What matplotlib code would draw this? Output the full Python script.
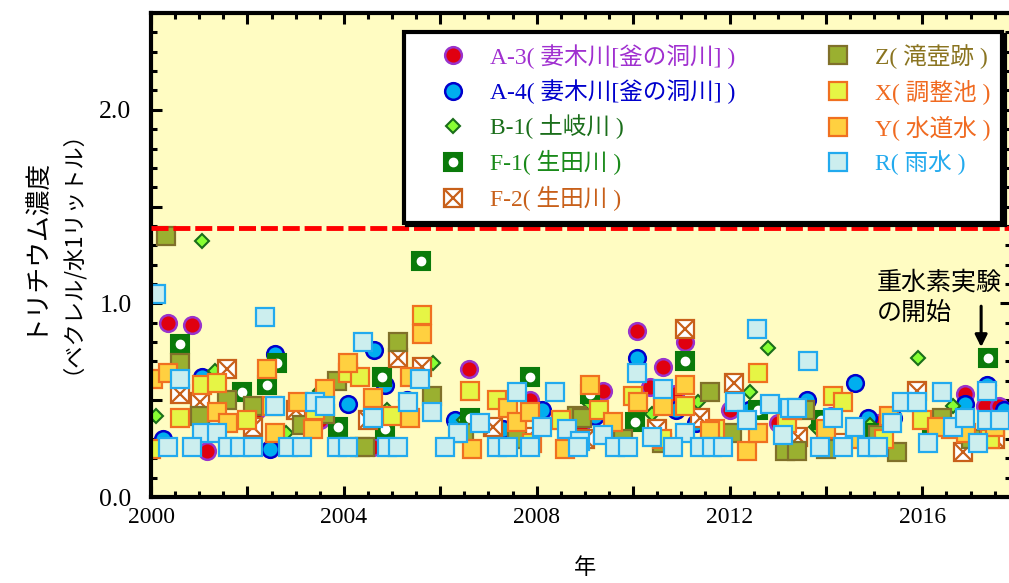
import numpy as np
import matplotlib
matplotlib.use('Agg')
import matplotlib.pyplot as plt
from matplotlib.ticker import MultipleLocator, FixedFormatter, FixedLocator

plt.rcParams['font.family'] = ['Liberation Serif', 'Noto Sans CJK JP']

# %%
# data (year, Bq/L)
a3_year = [2000.35, 2000.85, 2001.16, 2002.2, 2003.5, 2004.6, 2005.3, 2006.6, 2007.86, 2008.9,
           2009.38, 2010.08, 2010.35, 2010.62, 2010.87, 2011.08, 2012.0, 2013.0, 2014.1, 2015.08,
           2016.2, 2016.89, 2017.3, 2017.6]
a3_val = [0.90, 0.89, 0.24, 0.45, 0.40, 0.26, 0.45, 0.66, 0.50, 0.35,
          0.55, 0.86, 0.57, 0.67, 0.53, 0.80, 0.45, 0.38, 0.42, 0.38,
          0.38, 0.53, 0.47, 0.47]

a4_year = [2000.25, 2001.06, 2002.47, 2002.57, 2003.3, 2004.09, 2004.62, 2004.85, 2005.3, 2006.3,
           2007.3, 2008.1, 2009.2, 2010.08, 2010.9, 2011.3, 2012.4, 2013.6, 2014.61, 2014.88,
           2015.39, 2016.89, 2017.34, 2017.7]
a4_val = [0.30, 0.62, 0.25, 0.74, 0.42, 0.48, 0.76, 0.58, 0.50, 0.40,
          0.35, 0.45, 0.42, 0.72, 0.45, 0.38, 0.45, 0.50, 0.59, 0.41,
          0.41, 0.48, 0.58, 0.45]

b1_year = [2000.1, 2001.05, 2001.33, 2002.8, 2003.5, 2004.9, 2005.85, 2006.5, 2007.6, 2009.1,
           2010.4, 2011.35, 2012.43, 2012.8, 2013.8, 2014.92, 2015.9, 2016.64, 2017.5]
b1_val = [0.42, 1.32, 0.65, 0.33, 0.55, 0.45, 0.69, 0.40, 0.38, 0.48,
          0.43, 0.49, 0.54, 0.77, 0.36, 0.37, 0.72, 0.47, 0.40]

f1_year = [2000.6, 2001.89, 2002.41, 2002.61, 2003.88, 2004.79, 2004.85, 2005.6, 2006.62, 2007.86,
           2009.11, 2010.04, 2011.08, 2012.6, 2013.9, 2015.0, 2016.2, 2017.37]
f1_val = [0.79, 0.54, 0.58, 0.69, 0.36, 0.62, 0.35, 1.22, 0.41, 0.62,
          0.53, 0.39, 0.70, 0.45, 0.40, 0.33, 0.38, 0.72]

f2_year = [2000.6, 2001.02, 2001.58, 2002.12, 2003.0, 2004.5, 2005.12, 2005.62, 2007.1, 2007.82,
           2009.0, 2010.5, 2011.08, 2011.39, 2012.1, 2013.42, 2014.3, 2015.89, 2016.85, 2017.5]
f2_val = [0.53, 0.49, 0.66, 0.36, 0.45, 0.40, 0.72, 0.67, 0.36, 0.31,
          0.30, 0.35, 0.87, 0.41, 0.59, 0.31, 0.28, 0.55, 0.23, 0.30]

z_year = [2000.3, 2000.6, 2001.02, 2001.58, 2002.12, 2003.13, 2003.6, 2003.86, 2004.34, 2004.44,
          2005.12, 2005.83, 2006.5, 2007.6, 2008.84, 2008.94, 2009.8, 2010.6, 2011.6, 2012.05,
          2013.15, 2013.4, 2013.57, 2014.0, 2015.08, 2015.48, 2016.41, 2017.0]
z_val = [1.35, 0.69, 0.42, 0.50, 0.47, 0.37, 0.43, 0.60, 0.26, 0.26,
         0.80, 0.52, 0.33, 0.30, 0.42, 0.41, 0.30, 0.28, 0.54, 0.33,
         0.24, 0.24, 0.45, 0.25, 0.32, 0.23, 0.41, 0.30]

x_year = [2000.0, 2000.6, 2001.06, 2001.37, 2002.0, 2002.5, 2003.4, 2004.09, 2004.34, 2005.0,
          2005.62, 2006.62, 2007.18, 2007.9, 2008.5, 2009.3, 2010.0, 2010.6, 2011.08, 2011.7,
          2012.59, 2013.2, 2014.15, 2014.36, 2015.2, 2016.0, 2016.6, 2017.4]
x_val = [0.25, 0.41, 0.58, 0.59, 0.40, 0.47, 0.45, 0.64, 0.62, 0.42,
         0.94, 0.55, 0.50, 0.28, 0.40, 0.45, 0.52, 0.30, 0.47, 0.35,
         0.64, 0.38, 0.52, 0.49, 0.30, 0.40, 0.35, 0.30]

y_year = [2000.05, 2000.35, 2001.37, 2001.6, 2002.41, 2002.57, 2003.05, 2003.36, 2003.61, 2004.09,
          2004.61, 2005.37, 2005.37, 2005.62, 2006.66, 2007.41, 2007.59, 2007.86, 2008.59, 2009.11,
          2009.59, 2010.1, 2010.62, 2011.08, 2011.6, 2012.37, 2012.59, 2013.3, 2014.0, 2014.6,
          2015.3, 2016.3, 2016.9, 2017.5]
y_val = [0.61, 0.64, 0.44, 0.38, 0.66, 0.33, 0.49, 0.35, 0.56, 0.69,
         0.51, 0.41, 0.62, 0.84, 0.25, 0.46, 0.39, 0.44, 0.25, 0.58,
         0.39, 0.49, 0.47, 0.58, 0.34, 0.24, 0.33, 0.45, 0.35, 0.30,
         0.42, 0.36, 0.33, 0.36]

r_year = [2000.1, 2002.37, 2000.6, 2001.06, 2001.37, 2002.57, 2003.4, 2003.61, 2004.4, 2005.58,
          2005.33, 2005.83, 2004.61, 2006.83, 2006.37, 2007.59, 2008.38, 2008.11, 2008.63, 2010.08,
          2010.62, 2012.12, 2012.37, 2012.84, 2013.26, 2012.57, 2010.39, 2011.08, 2008.9, 2009.38,
          2013.11, 2013.63, 2013.4, 2014.15, 2014.61, 2015.58, 2015.89, 2015.37, 2016.41, 2016.64,
          2016.89, 2017.34, 2017.34, 2017.61, 2016.12, 2017.16,
          2000.35, 2000.85, 2001.6, 2001.85, 2002.12, 2002.84, 2003.13, 2003.86, 2004.09, 2004.9,
          2005.12, 2006.1, 2007.18, 2007.41, 2007.86, 2008.86, 2009.63, 2009.9, 2010.83, 2011.39,
          2011.64, 2011.87, 2013.88, 2014.36, 2014.85, 2015.08]
r_val = [1.05, 0.93, 0.61, 0.33, 0.33, 0.47, 0.49, 0.47, 0.80, 0.61,
         0.49, 0.44, 0.41, 0.38, 0.33, 0.54, 0.54, 0.36, 0.35, 0.64,
         0.56, 0.49, 0.40, 0.48, 0.46, 0.87, 0.31, 0.33, 0.29, 0.32,
         0.32, 0.70, 0.46, 0.41, 0.36, 0.49, 0.49, 0.38, 0.54, 0.36,
         0.41, 0.55, 0.40, 0.40, 0.28, 0.28,
         0.26, 0.26, 0.26, 0.26, 0.26, 0.26, 0.26, 0.26, 0.26, 0.26,
         0.26, 0.26, 0.26, 0.26, 0.26, 0.26, 0.26, 0.26, 0.26, 0.26,
         0.26, 0.26, 0.26, 0.26, 0.26, 0.26]

limit_val = 1.39

labels = ['A-3( 妻木川[釜の洞川] )', 'A-4( 妻木川[釜の洞川] )', 'B-1( 土岐川 )', 'F-1( 生田川 )',
          'F-2( 生田川 )', 'Z( 滝壺跡 )', 'X( 調整池 )', 'Y( 水道水 )', 'R( 雨水 )']

# %%
fig = plt.figure(figsize=(10.09, 5.83), dpi=100)
ax = fig.add_axes([0.1497, 0.1475, 0.8523, 0.8302])
ax.set_facecolor('#FFFCC2')

sq = 12.5
a3 = ax.plot(a3_year, a3_val, 'o', ms=12, mfc='#E00010', mec='#9933CC', mew=1.8, ls='none')[0]
a4 = ax.plot(a4_year, a4_val, 'o', ms=12, mfc='#00AEEF', mec='#0000CC', mew=1.8, ls='none')[0]
b1 = ax.plot(b1_year, b1_val, 'D', ms=7, mfc='#88FF33', mec='#1A6E1A', mew=1.5, ls='none')[0]
f1a = ax.plot(f1_year, f1_val, 's', ms=sq, mfc='#0A7A0A', mec='#0A7A0A', mew=1.5, ls='none')[0]
f1b = ax.plot(f1_year, f1_val, 'o', ms=6, mfc='white', mec='white', ls='none')[0]
f2a = ax.plot(f2_year, f2_val, 's', ms=sq, mfc='white', mec='#C8601A', mew=1.6, ls='none')[0]
f2b = ax.plot(f2_year, f2_val, 'x', ms=sq, mec='#C8601A', mew=1.6, ls='none')[0]
zz = ax.plot(z_year, z_val, 's', ms=sq, mfc='#9AB030', mec='#80702A', mew=1.6, ls='none')[0]
xx = ax.plot(x_year, x_val, 's', ms=sq, mfc='#E6F545', mec='#F07020', mew=1.6, ls='none')[0]
yy = ax.plot(y_year, y_val, 's', ms=sq, mfc='#FFD040', mec='#F07020', mew=1.6, ls='none')[0]
rr = ax.plot(r_year, r_val, 's', ms=sq, mfc='#CCEEEE', mec='#22AAEE', mew=1.6, ls='none')[0]

ax.axhline(limit_val, color='#FF0000', lw=3.5, dashes=(3.5, 1.0), zorder=5)

ax.set_xlim(2000, 2017.84)
ax.set_ylim(0, 2.5)
ax.xaxis.set_major_locator(MultipleLocator(2))
ax.xaxis.set_minor_locator(MultipleLocator(0.5))
ax.set_xticklabels([])
for yr in [2000, 2004, 2008, 2012, 2016]:
    ax.text(yr, -0.05, str(yr), ha='center', va='top', fontsize=17,
            family='Liberation Serif', clip_on=False)
ax.yaxis.set_major_locator(FixedLocator([0, 0.5, 1.0, 1.5, 2.0]))
ax.yaxis.set_major_formatter(FixedFormatter(['0.0', '', '1.0', '', '2.0']))
ax.yaxis.set_minor_locator(MultipleLocator(0.1))
ax.tick_params(which='both', direction='in', top=True, right=True, width=2.2)
ax.tick_params(axis='y', labelsize=18.5, pad=14)
ax.tick_params(which='major', length=8)
ax.tick_params(which='minor', length=4)
for s in ax.spines.values():
    s.set_linewidth(3)

# y label, two lines
fig.text(33 / 1009, 1 - 245 / 583, 'トリチウム濃度', rotation=90, ha='center', va='center',
         fontsize=18.5, family='Noto Sans CJK JP')
fig.text(60 / 1009, 1 - 241 / 583, '（ベクレル/水1リットル）', rotation=90, ha='center', va='center',
         fontsize=16, family='Noto Sans CJK JP')
fig.text(585 / 1009, 1 - 567 / 583, '年', ha='center', va='center', fontsize=16, family='Noto Sans CJK JP')

ax.text(2015.05, 1.175, '重水素実験\nの開始', ha='left', va='top', fontsize=18,
        family='Noto Sans CJK JP', linespacing=1.2)
ax.annotate('', xy=(2017.22, 0.76), xytext=(2017.22, 1.0),
            arrowprops=dict(arrowstyle='-|>', color='black', lw=2.2, mutation_scale=18))

handles = [a3, a4, b1, (f1a, f1b), (f2a, f2b), zz, xx, yy, rr]
text_colors = ['#A030D0', '#0000CC', '#1A6E1A', '#1A8A1A', '#C8601A',
               '#8A7420', '#F06A20', '#F06A20', '#22AAEE']
leg = ax.legend(handles, labels, ncol=2, loc='upper left', bbox_to_anchor=(0.2942, 0.9607),
                borderaxespad=0, fontsize=17, frameon=True, fancybox=False,
                shadow={'color': 'black', 'alpha': 1},
                labelspacing=0.45, handletextpad=0.0, columnspacing=2.76, borderpad=0.5,
                handlelength=3.15)
leg.get_frame().set_linewidth(3)
leg.get_frame().set_edgecolor('black')
leg.get_frame().set_facecolor('white')
leg.get_frame().set_alpha(1)
for t, c in zip(leg.get_texts(), text_colors):
    t.set_color(c)
leg.set_zorder(10)

fig.savefig('out.png', dpi=100)
